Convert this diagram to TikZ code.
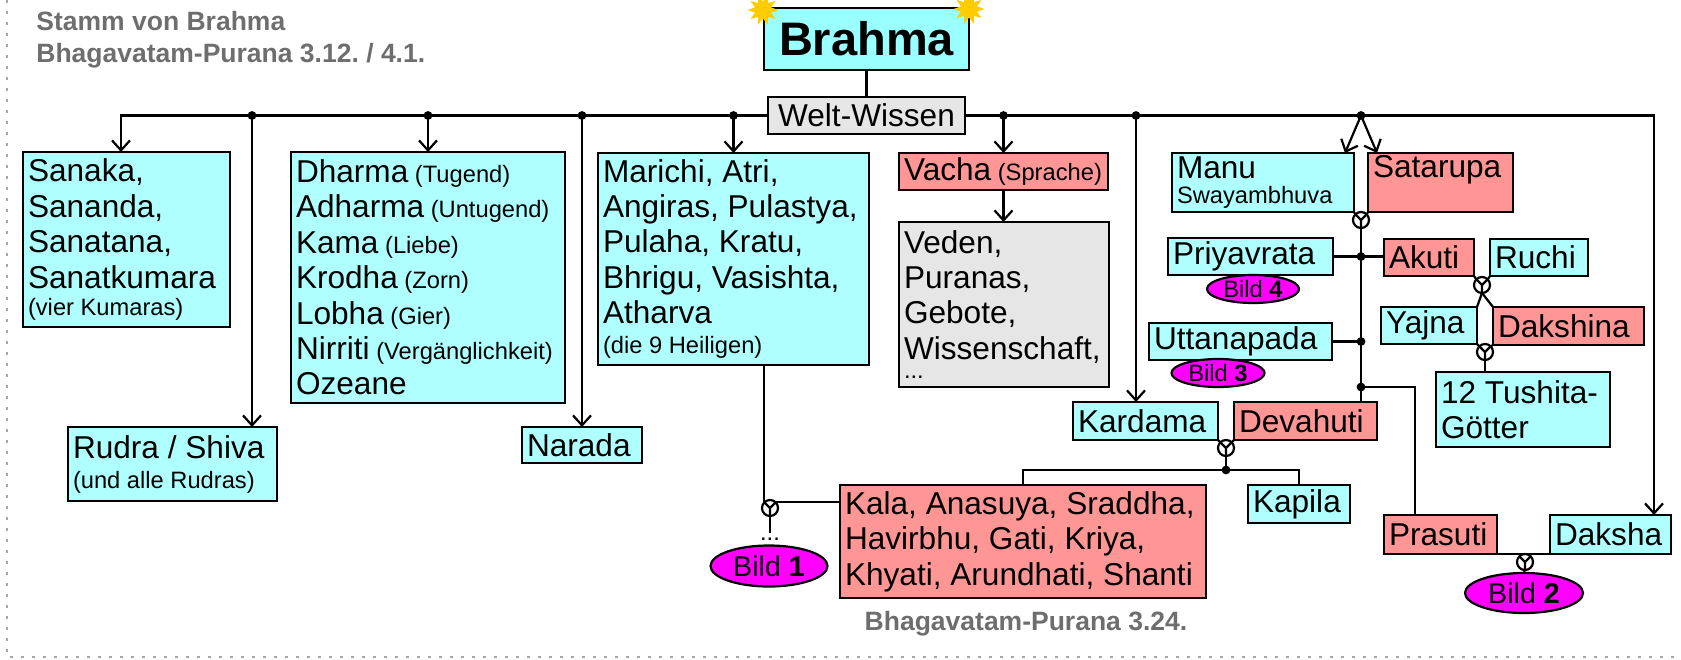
\documentclass[tikz,border=0pt]{standalone}
\usepackage{fontspec}
\setmainfont{Liberation Sans}
\usepackage{tikz}
\usepackage{xcolor}
\usetikzlibrary{
    arrows.meta,
    calc,
    shapes.geometric
}
\frenchspacing
\definecolor{hellblau}{RGB}{175,255,255}
\definecolor{brahmablau}{RGB}{153,255,255}
\definecolor{lachs}{RGB}{255,150,150}
\definecolor{hellgrau}{RGB}{230,230,230}
\definecolor{titelgrau}{RGB}{110,110,110}
\definecolor{sonnengold}{RGB}{255,204,0}
\definecolor{bildrosa}{RGB}{255,0,255}
\newcommand{\hauptfont}{\fontsize{15.8}{17.7}\selectfont}
\newcommand{\kleinfont}{\fontsize{11.85}{13.5}\selectfont}
\newcommand{\bildfont}{\fontsize{14.3}{16}\selectfont}
\newcommand{\titelfont}{\fontsize{13.25}{16}\selectfont\bfseries}
\newcommand{\brahmafont}{\fontsize{23.5}{26}\selectfont\bfseries}
\tikzset{
    kasten/.style = {draw, line width=1.1pt, anchor=north west,
      align=flush left, inner xsep=2.5pt, inner ysep=1pt, outer sep=0pt,
      font=\hauptfont}
  }
\tikzset{
    blau/.style 2 args = {kasten, fill=hellblau, text width=#1,
      minimum height=#2},
    rot/.style 2 args = {kasten, fill=lachs, text width=#1,
      minimum height=#2},
    grau/.style 2 args = {kasten, fill=hellgrau, text width=#1,
      minimum height=#2}
  }
\tikzset{
    bild/.style 2 args = {ellipse, draw, line width=1.1pt, fill=bildrosa,
      inner sep=0pt, minimum width=#1, minimum height=#2, font=\bildfont}
  }
\tikzset{
    ehe/.style = {circle, draw, line width=1.1pt, minimum size=8pt,
      inner sep=0pt, outer sep=0pt,
      path picture={
        \draw[line width=1.1pt]
          (path picture bounding box.center) -- +(135:6pt)
          (path picture bounding box.center) -- +(45:6pt)
          (path picture bounding box.center) -- +(0,-6pt);
      }}
  }
\tikzset{
    linie/.style = {line width=1.1pt},
    pfeil/.style = {linie, -{Straight Barb[length=5pt,width=9pt]}},
    punkt/.style = {circle, fill, inner sep=0pt, minimum size=4.4pt},
    stern/.style = {star, star points=10, star point ratio=0.55,
      fill=sonnengold, inner sep=0pt, minimum size=8.5pt},
    titel/.style = {font=\titelfont, text=titelgrau, align=left,
      inner sep=0pt},
    rahmen/.style = {gray!70, line width=1pt, dash pattern=on 1.5pt off 4pt}
  }

\begin{document}
\begin{tikzpicture}[x=0.5pt, y=-0.5pt]

\useasboundingbox (0,0) rectangle (1681,659);
\draw[rahmen] (7,0) -- (7,657) -- (1681,657);

\node[titel, anchor=north west] (titel) at (36,11)
  {Stamm von Brahma\\Bhagavatam-Purana 3.12. / 4.1.};
\node[titel] (quelle) at (1026,624) {Bhagavatam-Purana 3.24.};

\node[kasten, fill=brahmablau, align=center, text width=97.5pt,
      minimum height=31pt, font=\brahmafont]
  (brahma) at (764,8) {Brahma};
\node[stern] (sternlinks) at (763,10) {};
\node[stern] (sternrechts) at (969,9) {};

\node[kasten, fill=hellgrau, align=center, text width=93.5pt,
      minimum height=18.5pt]
  (welt) at (768,97) {Welt-Wissen};

\node[blau={98.5pt}{87.5pt}] (sanaka) at (23,152)
  {Sanaka,\\Sananda,\\Sanatana,\\Sanatkumara\\[-4.2pt]{\kleinfont (vier~Kumaras)}};

\node[blau={132pt}{125.5pt}] (dharma) at (291,152)
  {Dharma{\kleinfont~(Tugend)}\\Adharma{\kleinfont~(Untugend)}\\
   Kama{\kleinfont~(Liebe)}\\Krodha{\kleinfont~(Zorn)}\\
   Lobha{\kleinfont~(Gier)}\\Nirriti{\kleinfont~(Vergänglichkeit)}\\Ozeane};

\node[blau={99.5pt}{37pt}] (rudra) at (68,427)
  {Rudra~/~Shiva\\[-2.7pt]{\kleinfont (und~alle~Rudras)}};

\node[blau={55pt}{18pt}] (narada) at (522,427) {Narada};

\node[blau={130.5pt}{106pt}] (marichi) at (598,153)
  {Marichi,~Atri,\\Angiras,~Pulastya,\\Pulaha,~Kratu,\\Bhrigu,~Vasishta,\\
   Atharva\\[-2.7pt]{\kleinfont (die~9~Heiligen)}};

\node[rot={99.5pt}{18.5pt}] (vacha) at (899,153)
  {Vacha{\kleinfont~(Sprache)}};

\node[grau={100pt}{82.5pt}] (veden) at (899,222)
  {Veden,\\Puranas,\\Gebote,\\Wissenschaft,\\[-8pt]{\kleinfont ...}};

\node[blau={86pt}{29.5pt}] (manu) at (1172,153)
  {Manu\\[-5.2pt]{\kleinfont Swayambhuva}};
\node[rot={67.5pt}{29.5pt}] (satarupa) at (1368,153)
  {Satarupa\\[-5.2pt]{\kleinfont\strut}};

\node[blau={77.5pt}{18.5pt}] (priyavrata) at (1168,238) {Priyavrata};
\node[rot={40pt}{18.5pt}] (akuti) at (1384,239) {Akuti};
\node[blau={44pt}{18.5pt}] (ruchi) at (1490,239) {Ruchi};
\node[blau={43pt}{18.5pt}] (yajna) at (1381,307) {Yajna};
\node[rot={70.5pt}{19pt}] (dakshina) at (1493,307) {Dakshina};
\node[blau={82pt}{37.5pt}] (tushita) at (1436,372) {12~Tushita-\\Götter};
\node[blau={86.5pt}{18.5pt}] (uttanapada) at (1149,323) {Uttanapada};

\node[blau={67.5pt}{19pt}] (kardama) at (1073,402) {Kardama};
\node[rot={66.5pt}{19pt}] (devahuti) at (1234,402) {Devahuti};
\node[blau={46pt}{19pt}] (kapila) at (1248,485) {Kapila};

\node[rot={178pt}{56.5pt}] (kala) at (840,485)
  {Kala,~Anasuya,~Sraddha,\\Havirbhu,~Gati,~Kriya,\\Khyati,~Arundhati,~Shanti};

\node[rot={51.5pt}{19.5pt}] (prasuti) at (1384,515) {Prasuti};
\node[blau={55.5pt}{19.5pt}] (daksha) at (1550,515) {Daksha};

\draw[linie] (brahma) -- (welt);
\draw[pfeil] (welt.west) -| ([xshift=-2.75pt]sanaka.north);
\draw[pfeil] (welt.east) -| ([xshift=-8.5pt]daksha.north east);

\coordinate (jrudra) at (252,115.5);
\coordinate (jdharma) at (welt.west -| dharma.north);
\coordinate (jnarada) at (welt.west -| narada.north);
\coordinate (jmarichi) at (welt.west -| marichi.north);
\coordinate (jvacha) at (welt.east -| vacha.north);
\coordinate (jkardama) at (1136,115.5);
\coordinate (jmanu) at (1361,115.5);

\draw[pfeil] (jrudra) -- (jrudra |- rudra.north);
\draw[pfeil] (jdharma) -- (dharma.north);
\draw[pfeil] (jnarada) -- (narada.north);
\draw[pfeil] (jmarichi) -- (marichi.north);
\draw[pfeil] (jvacha) -- (vacha.north);
\draw[pfeil] (jkardama) -- (jkardama |- kardama.north);
\draw[pfeil] (jmanu) -- ([xshift=-4.5pt]manu.north east);
\draw[pfeil] (jmanu) -- ([xshift=4.5pt]satarupa.north west);
\draw[pfeil] (vacha.south) -- (vacha.south |- veden.north);

\node[ehe] (ehemanu) at (1361,220) {};
\node[ehe] (eheakuti) at (1482,285) {};
\node[ehe] (eheyajna) at (1485,352) {};
\node[ehe] (ehekardama) at (1226,448) {};
\node[ehe] (ehemarichi) at (770,508) {};
\node[ehe] (ehedaksha) at (1525,562) {};

\draw[linie] (manu.south east) -- (ehemanu.north west);
\draw[linie] (satarupa.south west) -- (ehemanu.north east);
\draw[linie] (ehemanu.south) -- (ehemanu.south |- devahuti.north);

\coordinate (jpriya) at (priyavrata.east -| ehemanu.south);
\coordinate (juttana) at (uttanapada.east -| ehemanu.south);
\coordinate (jprasuti) at (1361,387);
\draw[linie] (priyavrata.east) -- (priyavrata.east -| akuti.west);
\draw[linie] (uttanapada.east) -- (juttana);
\draw[linie] (jprasuti) -| ([xshift=-12.75pt]prasuti.north);

\draw[linie] (akuti.south east) -- (eheakuti.north west);
\draw[linie] (ruchi.south west) -- (eheakuti.north east);
\draw[linie] (eheakuti.south) -- (yajna.north east);
\draw[linie] (eheakuti.south) -- (dakshina.north west);

\draw[linie] (yajna.south east) -- (eheyajna.north west);
\draw[linie] (dakshina.south west) -- (eheyajna.north east);
\draw[linie] (eheyajna.south) -- (eheyajna.south |- tushita.north);

\coordinate (jkapila) at (1226,470);
\draw[linie] (kardama.south east) -- (ehekardama.north west);
\draw[linie] (devahuti.south west) -- (ehekardama.north east);
\draw[linie] (ehekardama.south) -- (jkapila);
\draw[linie] (kala.north) |- (jkapila) -| (kapila.north);

\node[font=\kleinfont, inner sep=2pt] (punkte) at (770,539) {...};
\draw[linie] (ehemarichi.north west |- marichi.south) -- (ehemarichi.north west);
\draw[linie] (kala.west |- ehemarichi.north east) -- (ehemarichi.north east);
\draw[linie] (ehemarichi.south) -- (punkte.north);

\draw[linie] (prasuti.south east) -- (daksha.south west);

\foreach \j in {jrudra,jdharma,jnarada,jmarichi,jvacha,jkardama,jmanu,
                jpriya,juttana,jprasuti,jkapila}
  \node[punkt] at (\j) {};

\node[bild={58.5pt}{20.5pt}] (bild1) at (769,566) {Bild \textbf{1}};
\node[bild={59pt}{20pt}] (bild2) at (1524,593) {Bild \textbf{2}};
\node[bild={46.5pt}{14pt}, font=\kleinfont] (bild3) at (1218,373) {Bild \textbf{3}};
\node[bild={46pt}{14pt}, font=\kleinfont] (bild4) at (1253,289) {Bild \textbf{4}};
\draw[linie] (ehedaksha.south) -- (bild2.north);

\end{tikzpicture}
\end{document}
